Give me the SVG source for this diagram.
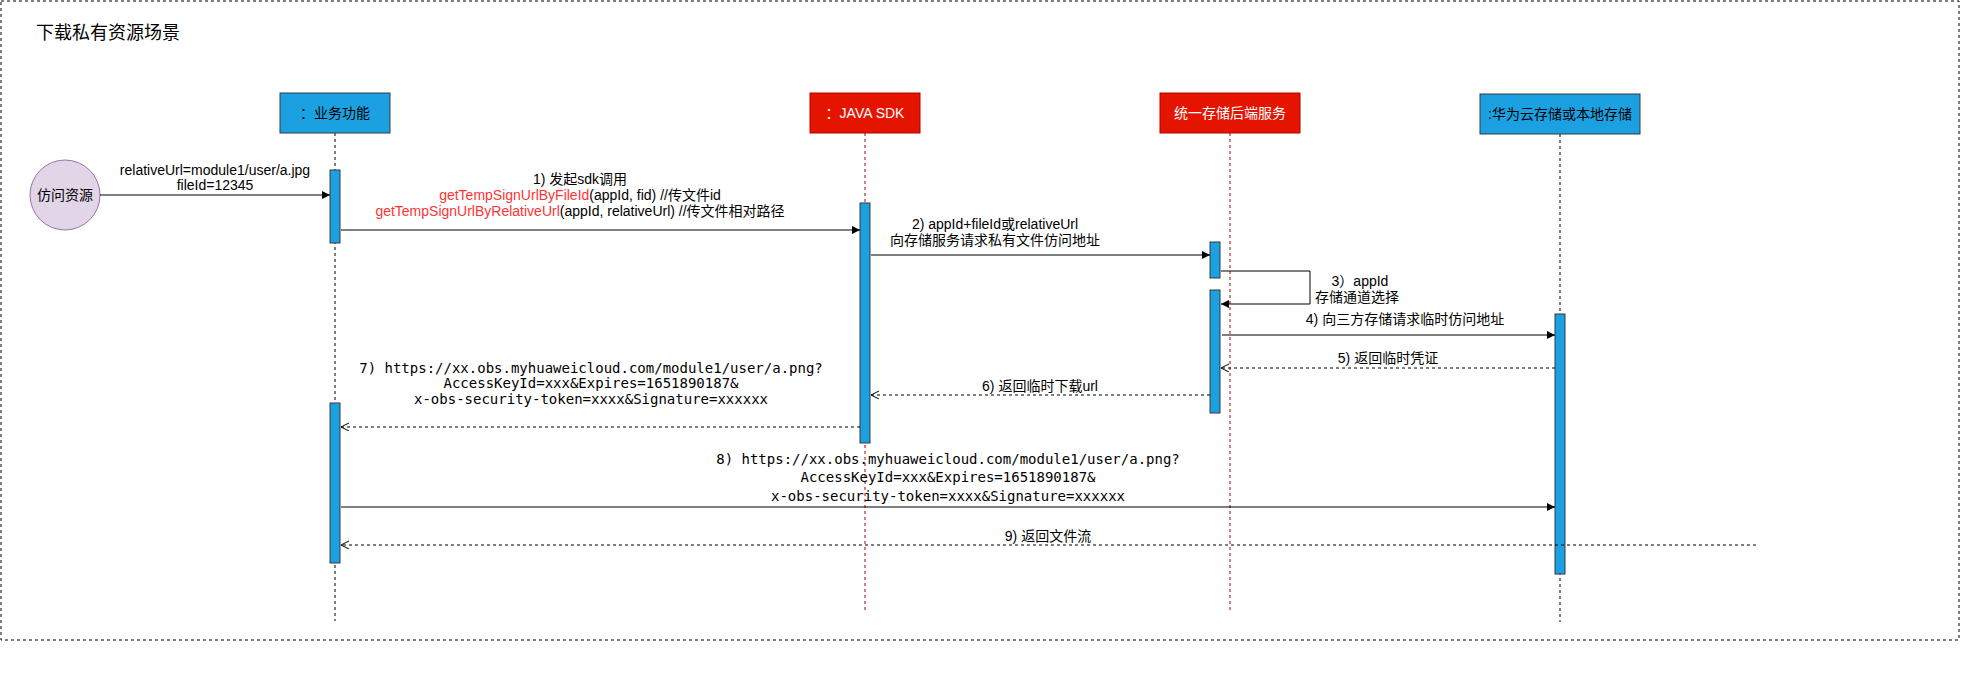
<svg xmlns="http://www.w3.org/2000/svg" width="1961" height="677" viewBox="0 0 1961 677">
<style>
.t{font-family:"Liberation Sans","Noto Sans CJK SC",sans-serif;font-size:14px;fill:#000}
.m{font-family:"DejaVu Sans Mono","Liberation Mono",monospace;font-size:14px;fill:#000}
.c{text-anchor:middle}
.w{fill:#fff}
.r{fill:#FF3333}
.blue{fill:#1ba1e2;stroke:#36393d;stroke-width:1}
.red{fill:#e51400;stroke:#b20000;stroke-width:1}
.bar{fill:#1ba1e2;stroke:#36393d;stroke-width:1}
.ll{fill:none;stroke:#000;stroke-dasharray:3 3}
.llr{fill:none;stroke:#b20000;stroke-dasharray:3 3}
.msg{fill:none;stroke:#000;stroke-width:1}
.ret{fill:none;stroke:#000;stroke-width:1;stroke-dasharray:3 3}
</style>
<defs>
<marker id="block" markerWidth="10" markerHeight="10" refX="8" refY="4" orient="auto" markerUnits="userSpaceOnUse"><path d="M0,0 L8,4 L0,8 z" fill="#000"/></marker>
<marker id="open" markerWidth="10" markerHeight="10" refX="8" refY="4" orient="auto" markerUnits="userSpaceOnUse"><path d="M0,0 L8,4 L0,8" fill="none" stroke="#000"/></marker>
</defs>
<rect x="1" y="1" width="1958" height="639" fill="none" stroke="#000" stroke-dasharray="3 3"/>
<text x="36" y="39" style="font-family:'Liberation Sans','Noto Sans CJK SC',sans-serif;font-size:18px">下载私有资源场景</text>

<g id="visitor">
<circle cx="65" cy="195" r="35" fill="#e1d5e7" stroke="#9673a6"/>
<text class="t c" x="65" y="200">仿问资源</text>
</g>

<g id="business">
<line class="ll" x1="335" y1="133" x2="335" y2="621"/>
<rect class="blue" x="280" y="93" width="110" height="40"/>
<text class="t c" x="335" y="118">：业务功能</text>
<rect class="bar" x="330" y="170" width="10" height="73"/>
<rect class="bar" x="330" y="403" width="10" height="160"/>
</g>

<g id="sdk">
<line class="llr" x1="865" y1="133" x2="865" y2="610"/>
<rect class="red" x="810" y="93" width="110" height="40"/>
<text class="t c w" x="865" y="118">：JAVA SDK</text>
<rect class="bar" x="860" y="203" width="10" height="240"/>
</g>

<g id="storage">
<line class="llr" x1="1230" y1="133" x2="1230" y2="610"/>
<rect class="red" x="1160" y="93" width="140" height="40"/>
<text class="t c w" x="1230" y="118">统一存储后端服务</text>
<rect class="bar" x="1210" y="242" width="10" height="36"/>
<rect class="bar" x="1210" y="290" width="10" height="123"/>
</g>

<g id="huawei">
<line class="ll" x1="1560" y1="134" x2="1560" y2="622"/>
<rect class="blue" x="1480" y="94" width="160" height="40"/>
<text class="t c" x="1560" y="119">:华为云存储或本地存储</text>
<rect class="bar" x="1555" y="314" width="10" height="260"/>
</g>

<g id="connectors">
<line class="msg" x1="100" y1="195" x2="330" y2="195" marker-end="url(#block)"/>
<text class="t c" x="215" y="175">relativeUrl=module1/user/a.jpg</text>
<text class="t c" x="215" y="190">fileId=12345</text>

<line class="msg" x1="341" y1="230" x2="860" y2="230" marker-end="url(#block)"/>
<text class="t c" x="580" y="184">1) 发起sdk调用</text>
<text class="t c" x="580" y="200"><tspan class="r">getTempSignUrlByFileId</tspan>(appId, fid) //传文件id</text>
<text class="t c" x="580" y="216"><tspan class="r">getTempSignUrlByRelativeUrl</tspan>(appId, relativeUrl) //传文件相对路径</text>

<line class="msg" x1="871" y1="255" x2="1210" y2="255" marker-end="url(#block)"/>
<text class="t c" x="995" y="229">2) appId+fileId或relativeUrl</text>
<text class="t c" x="995" y="245">向存储服务请求私有文件仿问地址</text>

<polyline class="msg" points="1221,271 1310,271 1310,304 1221,304" marker-end="url(#block)"/>
<text class="t c" x="1360" y="286">3）appId</text>
<text class="t c" x="1357" y="302">存储通道选择</text>

<line class="msg" x1="1222" y1="335" x2="1555" y2="335" marker-end="url(#block)"/>
<text class="t c" x="1405" y="324">4) 向三方存储请求临时仿问地址</text>

<line class="ret" x1="1555" y1="368" x2="1221" y2="368" marker-end="url(#open)"/>
<text class="t c" x="1388" y="363">5) 返回临时凭证</text>

<line class="ret" x1="1210" y1="395" x2="871" y2="395" marker-end="url(#open)"/>
<text class="t c" x="1040" y="391">6) 返回临时下载url</text>

<line class="ret" x1="860" y1="427" x2="341" y2="427" marker-end="url(#open)"/>
<text class="m c" x="591" y="372.5">7) https://xx.obs.myhuaweicloud.com/module1/user/a.png?</text>
<text class="m c" x="591" y="388">AccessKeyId=xxx&amp;Expires=1651890187&amp;</text>
<text class="m c" x="591" y="403.5">x-obs-security-token=xxxx&amp;Signature=xxxxxx</text>

<line class="msg" x1="341" y1="507" x2="1555" y2="507" marker-end="url(#block)"/>
<text class="m c" x="948" y="463.5">8) https://xx.obs.myhuaweicloud.com/module1/user/a.png?</text>
<text class="m c" x="948" y="482.3">AccessKeyId=xxx&amp;Expires=1651890187&amp;</text>
<text class="m c" x="948" y="501">x-obs-security-token=xxxx&amp;Signature=xxxxxx</text>

<line class="ret" x1="1756" y1="545" x2="341" y2="545" marker-end="url(#open)"/>
<text class="t c" x="1048" y="541">9) 返回文件流</text>
</g>
</svg>
